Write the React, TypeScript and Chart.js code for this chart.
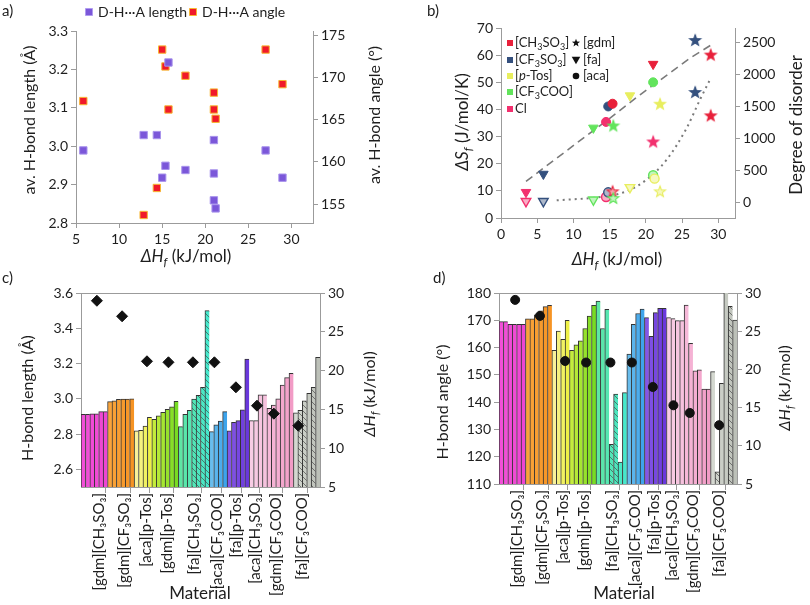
import React, { useEffect, useRef } from "react";
import { Chart, registerables } from "chart.js";
Chart.register(...registerables);

const FONT = "Lato, 'Open Sans', 'DejaVu Sans', sans-serif";
const AXIS = "#9b9b9b";
const TXT = "#1e1e1e";

// ---------- Panel a data ----------
const lenHf = [15.73, 5.85, 12.85, 14.38, 15.38, 15.0, 17.7, 21.0, 21.0, 21.0, 21.2, 27.0, 28.96];
const lenVal = [3.218, 2.989, 3.029, 3.029, 2.949, 2.918, 2.938, 3.016, 2.929, 2.859, 2.838, 2.989, 2.918];
const angHf = [15.0, 15.38, 17.7, 5.85, 15.73, 21.0, 21.0, 21.2, 14.38, 12.85, 27.0, 28.96];
const angVal = [173.3, 171.3, 170.2, 167.2, 166.2, 168.2, 166.2, 165.1, 156.9, 153.7, 173.3, 169.2];
const aXTicks = [5, 10, 15, 20, 25, 30];
const aYTicks = [2.8, 2.9, 3.0, 3.1, 3.2, 3.3];
const aY2Ticks = [155, 160, 165, 170, 175];

// ---------- Panel b data ----------
const sfHf = [3.45, 5.85, 12.75, 14.5, 14.8, 15.4, 15.5, 17.8, 21.0, 21.0, 21.0, 21.95, 26.8, 28.95];
const sfVal = [9.5, 16.2, 33.2, 35.4, 41.1, 42.1, 34.1, 45.1, 56.7, 50.0, 28.2, 42.1, 65.6, 60.2];
const sfCation = ["fa", "fa", "fa", "aca", "aca", "aca", "gdm", "fa", "fa", "aca", "gdm", "gdm", "gdm", "gdm"];
const sfAnion = ["Cl", "CF3SO3", "CF3COO", "Cl", "CF3SO3", "CH3SO3", "CF3COO", "pTos", "CH3SO3", "CF3COO", "Cl", "pTos", "CF3SO3", "CH3SO3"];
const ddHf = [3.45, 5.85, 12.75, 14.5, 14.8, 15.4, 15.5, 17.8, 21.0, 21.2, 21.95, 26.8, 28.95];
const ddVal = [16, 16, 40, 84, 157, 173, 68, 235, 424, 371, 173, 1731, 1365];
const ddCation = ["fa", "fa", "fa", "aca", "aca", "gdm", "gdm", "fa", "aca", "aca", "gdm", "gdm", "gdm"];
const ddAnion = ["Cl", "CF3SO3", "CF3COO", "Cl", "CF3SO3", "CH3SO3", "CF3COO", "pTos", "CF3COO", "pTos", "pTos", "CF3SO3", "CH3SO3"];
const fitHf = [3.45, 10.45, 15.05, 19.19, 26.1, 29.1];
const fitSf = [13.5, 27.6, 36.8, 45.4, 58.9, 63.9];
const curveHf = [7.69, 13.67, 17.35, 20.1, 22.87, 25.63, 27.47, 28.85];
const curveDd = [31, 84, 173, 356, 669, 1166, 1611, 1925];
const bXTicks = [0, 5, 10, 15, 20, 25, 30];
const bYTicks = [0, 10, 20, 30, 40, 50, 60, 70];
const bY2Ticks = [0, 500, 1000, 1500, 2000, 2500];

// ---------- Panels c, d data ----------
const groupLabels = ["[gdm][CH₃SO₃]", "[gdm][CF₃SO₃]", "[aca][p-Tos]", "[gdm][p-Tos]", "[fa][CH₃SO₃]", "[aca][CF₃COO]", "[fa][p-Tos]", "[aca][CH₃SO₃]", "[gdm][CF₃COO]", "[fa][CF₃COO]"];
const groupSizes = [6, 6, 4, 6, 7, 4, 5, 4, 6, 6];
const bondLength = [
  2.912, 2.912, 2.915, 2.915, 2.927, 2.927,
  2.984, 2.989, 2.997, 2.998, 2.998, 3.0,
  2.818, 2.821, 2.846, 2.895,
  2.884, 2.904, 2.923, 2.941, 2.955, 2.986,
  2.842, 2.912, 2.935, 2.999, 3.02, 3.065, 3.5,
  2.814, 2.852, 2.874, 2.927,
  2.819, 2.867, 2.876, 2.937, 3.225,
  2.876, 2.876, 3.022, 3.022,
  2.946, 2.965, 3.0, 3.078, 3.12, 3.145,
  2.92, 2.935, 2.989, 3.031, 3.065, 3.235,
];
const bondAngle = [
  169.5, 169.5, 168.5, 168.5, 168.5, 168.5,
  170.5, 170.5, 172, 173.5, 175, 175.5,
  159, 166, 163, 170,
  159, 161, 162.5, 167, 171.5, 175.5,
  177, 167, 174, 124.5, 143, 118, 143.5,
  157.6, 168.5, 172.5, 174.1,
  171, 164.1, 172.8, 174.4, 174.4,
  171, 170.6, 169.9, 169.9,
  175.6, 161.6, 151.5, 151.8, 144.8, 144.8,
  151.2, 114.5, 146.9, 186, 175.1, 170.1,
];
const hfC = [29.0, 27.0, 21.2, 21.07, 21.07, 21.07, 17.85, 15.48, 14.45, 12.9];
const hfCPos = [1.92, 7.9, 13.8, 18.9, 24.7, 29.8, 34.9, 39.9, 43.9, 49.7];
const hfD = [29.1, 27.0, 21.1, 20.9, 20.9, 20.9, 17.7, 15.3, 14.3, 12.7];
const hfDPos = [2.0, 7.9, 13.9, 18.9, 24.7, 29.8, 34.8, 39.7, 43.6, 50.6];
const cYTicks = [2.6, 2.8, 3.0, 3.2, 3.4, 3.6];
const dYTicks = [110, 120, 130, 140, 150, 160, 170, 180];
const hfTicks = [5, 10, 15, 20, 25, 30];

// ---------- styles ----------
const groupPalette = [
  ["#f24fd8", "#ee46d2"],
  ["#f9a43a", "#f69424"],
  ["#f8f29a", "#eef046"],
  ["#c4ec3c", "#78dc22"],
  ["#5ee6a4", "#46e8cc"],
  ["#68bcec", "#3ea4ec"],
  ["#8456e6", "#6a38dc"],
  ["#f8cce4", "#f6c2de"],
  ["#f6b8d8", "#f29cc6"],
  ["#d4d8d0", "#bcc0b8"],
];
const hatchC = [25, 26, 27, 28, 49, 50, 52];
const hatchD = [25, 26, 49, 52];
const anionColor: Record<string, string> = {
  CH3SO3: "#e8203a",
  CF3SO3: "#34507e",
  pTos: "#e8ee5e",
  CF3COO: "#62e45c",
  Cl: "#f2306e",
};

type Seg = { t: string; i?: boolean; sub?: boolean };
type Item =
  | { kind: "text"; x: number; y: number; size: number; segs: Seg[]; rot?: number; align?: "left" | "center" }
  | { kind: "mark"; x: number; y: number; r: number; shape: string; fill: string; stroke?: string };

function hexRgb(h: string) {
  const n = parseInt(h.slice(1), 16);
  return [(n >> 16) & 255, (n >> 8) & 255, n & 255];
}
function mix(a: string, b: string, t: number) {
  const A = hexRgb(a), B = hexRgb(b);
  return `rgb(${A.map((v, i) => Math.round(v + (B[i] - v) * t)).join(",")})`;
}
function hatchPattern(color: string) {
  const c = document.createElement("canvas");
  c.width = 6; c.height = 6;
  const g = c.getContext("2d")!;
  g.fillStyle = color; g.fillRect(0, 0, 6, 6);
  g.strokeStyle = "rgba(70,70,70,0.85)"; g.lineWidth = 0.8;
  g.beginPath();
  g.moveTo(0, 0); g.lineTo(6, 6);
  g.moveTo(-1, 5); g.lineTo(1, 7);
  g.moveTo(5, -1); g.lineTo(7, 1);
  g.stroke();
  return g.createPattern(c, "repeat");
}
function starPath(g: CanvasRenderingContext2D, cx: number, cy: number, r: number) {
  g.beginPath();
  for (let k = 0; k < 10; k++) {
    const a = -Math.PI / 2 + (k * Math.PI) / 5;
    const rr = k % 2 === 0 ? r : r * 0.42;
    const px = cx + rr * Math.cos(a), py = cy + rr * Math.sin(a);
    if (k === 0) g.moveTo(px, py); else g.lineTo(px, py);
  }
  g.closePath();
}
function starCanvas(fill: string, stroke: string, r: number) {
  const size = Math.ceil(r * 2 + 4);
  const c = document.createElement("canvas");
  c.width = size; c.height = size;
  const g = c.getContext("2d")!;
  starPath(g, size / 2, size / 2 + r * 0.1, r);
  g.fillStyle = fill; g.fill();
  g.lineWidth = 1.1; g.strokeStyle = stroke; g.stroke();
  return c;
}
function drawMark(ctx: CanvasRenderingContext2D, m: any) {
  ctx.save();
  ctx.fillStyle = m.fill;
  ctx.strokeStyle = m.stroke || m.fill;
  const r = m.r;
  if (m.shape === "star") starPath(ctx, m.x, m.y, r);
  else {
    ctx.beginPath();
    if (m.shape === "square") ctx.rect(m.x - r, m.y - r, 2 * r, 2 * r);
    else if (m.shape === "circle") ctx.arc(m.x, m.y, r, 0, Math.PI * 2);
    else if (m.shape === "tri") { ctx.moveTo(m.x - r, m.y - r * 0.75); ctx.lineTo(m.x + r, m.y - r * 0.75); ctx.lineTo(m.x, m.y + r); ctx.closePath(); }
  }
  ctx.fill();
  if (m.stroke) { ctx.lineWidth = 1; ctx.stroke(); }
  ctx.restore();
}
function makeOverlay(items: Item[]) {
  return {
    id: "overlay",
    afterDraw(chart: any) {
      const ctx = chart.ctx as CanvasRenderingContext2D;
      for (const it of items) {
        if (it.kind === "mark") { drawMark(ctx, it); continue; }
        ctx.save();
        ctx.translate(it.x, it.y);
        if (it.rot) ctx.rotate(it.rot);
        const fontFor = (s: Seg) => `${s.i ? "italic " : ""}${s.sub ? Math.round(it.size * 0.68) : it.size}px ${FONT}`;
        let w = 0;
        const ws = it.segs.map((s) => { ctx.font = fontFor(s); const m = ctx.measureText(s.t).width; w += m; return m; });
        let x = it.align === "left" ? 0 : -w / 2;
        ctx.textBaseline = "middle";
        ctx.textAlign = "left";
        ctx.fillStyle = TXT;
        it.segs.forEach((s, k) => {
          ctx.font = fontFor(s);
          ctx.fillText(s.t, x, s.sub ? it.size * 0.32 : 0);
          x += ws[k];
        });
        ctx.restore();
      }
    },
  };
}
function chem(s: string): Seg[] {
  if (s === "[p-Tos]") return [{ t: "[" }, { t: "p", i: true }, { t: "-Tos]" }];
  const out: Seg[] = [];
  for (const ch of s) {
    const isSub = /[0-9]/.test(ch);
    const last = out[out.length - 1];
    if (last && !!last.sub === isSub) last.t += ch; else out.push({ t: ch, sub: isSub });
  }
  return out;
}
const hfTitle: Seg[] = [{ t: "ΔH", i: true }, { t: "f", i: true, sub: true }, { t: " (kJ/mol)" }];

function ax(p: { position: string; min: number; max: number; vals: number[]; fmt?: (v: number) => string; width?: number; height?: number; size?: number }) {
  return {
    type: "linear",
    position: p.position,
    min: p.min,
    max: p.max,
    afterBuildTicks: (s: any) => { s.ticks = p.vals.map((v) => ({ value: v })); },
    afterFit: (s: any) => {
      if (p.width != null) s.width = p.width;
      if (p.height != null) s.height = p.height;
    },
    border: { display: true, color: AXIS, width: 1 },
    grid: { display: true, drawOnChartArea: false, drawTicks: true, tickLength: 5, color: AXIS },
    ticks: {
      color: TXT,
      font: { family: FONT, size: p.size ?? 14 },
      padding: 3,
      autoSkip: false,
      maxRotation: 0,
      callback: (v: number) => (p.fmt ? p.fmt(v) : String(v)),
    },
    title: { display: false },
  };
}

const baseOptions = (top: number) => ({
  animation: false,
  responsive: false,
  events: [],
  layout: { padding: { top, left: 0, right: 0, bottom: 0 } },
});

// ---------- Panel a ----------
function makeA() {
  const items: Item[] = [
    { kind: "text", x: 2, y: 11, size: 15, align: "left", segs: [{ t: "a)" }] },
    { kind: "mark", x: 89, y: 12, r: 3.5, shape: "square", fill: "#7b57d9", stroke: "#b09cf0" },
    { kind: "text", x: 98, y: 12, size: 14, align: "left", segs: [{ t: "D-H···A length" }] },
    { kind: "mark", x: 193, y: 12, r: 3.5, shape: "square", fill: "#f0192a", stroke: "#f7b733" },
    { kind: "text", x: 202, y: 12, size: 14, align: "left", segs: [{ t: "D-H···A angle" }] },
    { kind: "text", x: 30, y: 120, size: 16, rot: -Math.PI / 2, segs: [{ t: "av. H-bond length (Å)" }] },
    { kind: "text", x: 375, y: 115, size: 16, rot: -Math.PI / 2, segs: [{ t: "av. H-bond angle (°)" }] },
    { kind: "text", x: 186, y: 257, size: 17, segs: hfTitle },
  ];
  return {
    type: "scatter",
    data: {
      datasets: [
        { label: "D-H···A length", data: lenHf.map((x, i) => ({ x, y: lenVal[i] })), yAxisID: "y", pointStyle: "rect", pointRadius: 5.2, backgroundColor: "#7b57d9", borderColor: "#a893ec", borderWidth: 1 },
        { label: "D-H···A angle", data: angHf.map((x, i) => ({ x, y: angVal[i] })), yAxisID: "y2", pointStyle: "rect", pointRadius: 5.2, backgroundColor: "#f0192a", borderColor: "#f7b733", borderWidth: 1 },
      ],
    },
    options: {
      ...baseOptions(31),
      plugins: { legend: { display: false }, tooltip: { enabled: false } },
      scales: {
        x: ax({ position: "bottom", min: 5, max: 32.5, vals: aXTicks, height: 67 }),
        y: ax({ position: "left", min: 2.8, max: 3.3, vals: aYTicks, fmt: (v) => v.toFixed(1), width: 76 }),
        y2: ax({ position: "right", min: 152.75, max: 175.5, vals: aY2Ticks, width: 92 }),
      },
    },
    plugins: [makeOverlay(items)],
  };
}

// ---------- Panel b ----------
function markerFor(cation: string, color: string, hollow: boolean) {
  const fill = hollow ? mix(color, "#ffffff", 0.6) : color;
  if (cation === "gdm") return { style: starCanvas(fill, color, 5.8), rot: 0, fill, r: 6 };
  if (cation === "fa") return { style: "triangle", rot: 180, fill, r: 5.5 };
  return { style: "circle", rot: 0, fill, r: 4.5 };
}
function makeB() {
  const sfM = sfCation.map((c, i) => markerFor(c, anionColor[sfAnion[i]], false));
  const ddM = ddCation.map((c, i) => markerFor(c, anionColor[ddAnion[i]], ddVal[i] < 1000));
  const rows = [43, 60, 76, 92, 109];
  const anions = ["CH3SO3", "CF3SO3", "pTos", "CF3COO", "Cl"];
  const anionText = ["[CH3SO3]", "[CF3SO3]", "[p-Tos]", "[CF3COO]", "Cl"];
  const items: Item[] = [
    { kind: "text", x: 22, y: 11, size: 15, align: "left", segs: [{ t: "b)" }] },
    { kind: "text", x: 58, y: 122, size: 17, rot: -Math.PI / 2, segs: [{ t: "ΔS", i: true }, { t: "f", i: true, sub: true }, { t: " (J/mol/K)" }] },
    { kind: "text", x: 392, y: 125, size: 17, rot: -Math.PI / 2, segs: [{ t: "Degree of disorder" }] },
    { kind: "text", x: 212, y: 260, size: 17, segs: hfTitle },
  ];
  anions.forEach((a, k) => {
    items.push({ kind: "mark", x: 105, y: rows[k], r: 3, shape: "square", fill: anionColor[a] });
    items.push({ kind: "text", x: 110, y: rows[k], size: 13, align: "left", segs: chem(anionText[k]) });
  });
  const cat = [["star", "[gdm]"], ["tri", "[fa]"], ["circle", "[aca]"]];
  cat.forEach(([shape, label], k) => {
    items.push({ kind: "mark", x: 171, y: rows[k], r: shape === "circle" ? 3.3 : 4.3, shape, fill: "#111" });
    items.push({ kind: "text", x: 178, y: rows[k], size: 13, align: "left", segs: [{ t: label }] });
  });
  return {
    type: "scatter",
    data: {
      datasets: [
        {
          label: "ΔSf", data: sfHf.map((x, i) => ({ x, y: sfVal[i] })), yAxisID: "y",
          pointStyle: sfM.map((m) => m.style), rotation: sfM.map((m) => m.rot), pointRadius: sfM.map((m) => m.r),
          backgroundColor: sfM.map((m) => m.fill), borderColor: sfAnion.map((a) => anionColor[a]), borderWidth: 1,
        },
        {
          label: "Degree of disorder", data: ddHf.map((x, i) => ({ x, y: ddVal[i] })), yAxisID: "y2",
          pointStyle: ddM.map((m) => m.style), rotation: ddM.map((m) => m.rot), pointRadius: ddM.map((m) => m.r),
          backgroundColor: ddM.map((m) => m.fill), borderColor: ddAnion.map((a) => anionColor[a]), borderWidth: 1.4,
        },
        {
          type: "line", label: "fit", data: fitHf.map((x, i) => ({ x, y: fitSf[i] })), yAxisID: "y",
          borderColor: "#7a7a7a", borderDash: [8, 5], borderWidth: 1.6, pointRadius: 0, fill: false, showLine: true,
        },
        {
          type: "line", label: "curve", data: curveHf.map((x, i) => ({ x, y: curveDd[i] })), yAxisID: "y2",
          borderColor: "#7a7a7a", borderDash: [2, 4], borderWidth: 2, pointRadius: 0, fill: false, showLine: true,
          cubicInterpolationMode: "monotone",
        },
      ],
    },
    options: {
      ...baseOptions(28),
      plugins: { legend: { display: false }, tooltip: { enabled: false } },
      scales: {
        x: ax({ position: "bottom", min: 0, max: 32.3, vals: bXTicks, height: 72 }),
        y: ax({ position: "left", min: 0, max: 70, vals: bYTicks, width: 96 }),
        y2: ax({ position: "right", min: -246, max: 2735, vals: bY2Ticks, width: 75 }),
      },
    },
    plugins: [makeOverlay(items)],
  };
}

// ---------- Panels c, d ----------
function barColors(hatched: number[]) {
  const out: any[] = [];
  let k = 0;
  groupSizes.forEach((n, g) => {
    for (let j = 0; j < n; j++) {
      const col = mix(groupPalette[g][0], groupPalette[g][1], n > 1 ? j / (n - 1) : 0);
      out.push(hatched.includes(k) ? hatchPattern(col) : col);
      k++;
    }
  });
  return out;
}
function groupTicks() {
  const bounds: number[] = [-0.5];
  const centers: number[] = [];
  let s = 0;
  groupSizes.forEach((n) => { centers.push(s + (n - 1) / 2); s += n; bounds.push(s - 0.5); });
  const labels = new Map<number, string>();
  centers.forEach((c, i) => labels.set(c, groupLabels[i]));
  const all = [...bounds, ...centers].sort((a, b) => a - b);
  return { bounds, labels, all, total: s };
}
function makeBarChart(p: {
  values: number[]; yMin: number; yMax: number; yTicks: number[]; yFmt?: (v: number) => string;
  hf: number[]; hfPos: number[]; hatched: number[]; left: number; right: number; xh: number;
  marker: string; markerR: number; items: Item[];
}) {
  const gt = groupTicks();
  const plotWidth = 405 - p.left - p.right;
  const xl: any = {
    type: "linear", position: "bottom", min: -0.5, max: gt.total - 0.5,
    afterBuildTicks: (s: any) => { s.ticks = gt.all.map((v) => ({ value: v })); },
    afterFit: (s: any) => { s.height = p.xh; },
    border: { display: true, color: AXIS, width: 1 },
    grid: {
      display: true, drawOnChartArea: false, drawTicks: true, tickLength: 6,
      color: (ctx: any) => (ctx.tick && gt.bounds.includes(ctx.tick.value) ? AXIS : "rgba(0,0,0,0)"),
    },
    ticks: {
      color: TXT, font: { family: FONT, size: 15 }, padding: 0, autoSkip: false, minRotation: 90, maxRotation: 90,
      callback: (v: number) => gt.labels.get(v) ?? "",
    },
  };
  return {
    type: "bar",
    data: {
      labels: p.values.map((_, i) => String(i + 1)),
      datasets: [
        {
          type: "scatter", label: "ΔHf", data: p.hf.map((y, i) => ({ x: p.hfPos[i], y })), xAxisID: "xl", yAxisID: "y2",
          pointStyle: p.marker, pointRadius: p.markerR, backgroundColor: "#111", borderColor: "#111",
        },
        {
          type: "bar", label: "H-bond", data: p.values, xAxisID: "x", yAxisID: "y",
          backgroundColor: barColors(p.hatched), borderColor: "#333333",
          borderWidth: { left: 1, right: 0, top: 1, bottom: 0 },
          barThickness: plotWidth / gt.total,
          grouped: false,
          categoryPercentage: 1, barPercentage: 1,
        },
      ],
    },
    options: {
      ...baseOptions(23),
      plugins: { legend: { display: false }, tooltip: { enabled: false } },
      scales: {
        x: { type: "category", display: false, offset: true },
        xl,
        xt: {
          type: "linear", position: "top", min: 0, max: 1,
          ticks: { display: false }, grid: { display: false },
          border: { display: true, color: AXIS, width: 1 },
          afterFit: (s: any) => { s.height = 0; },
        },
        y: ax({ position: "left", min: p.yMin, max: p.yMax, vals: p.yTicks, fmt: p.yFmt, width: p.left }),
        y2: ax({ position: "right", min: 5, max: 30, vals: hfTicks, width: p.right }),
      },
    },
    plugins: [makeOverlay(p.items)],
  };
}
function makeC() {
  return makeBarChart({
    values: bondLength, yMin: 2.5, yMax: 3.6, yTicks: cYTicks, yFmt: (v) => v.toFixed(1),
    hf: hfC, hfPos: hfCPos, hatched: hatchC, left: 81, right: 85, xh: 118, marker: "rectRot", markerR: 5.5,
    items: [
      { kind: "text", x: 2, y: 8, size: 15, align: "left", segs: [{ t: "c)" }] },
      { kind: "text", x: 28, y: 128, size: 16, rot: -Math.PI / 2, segs: [{ t: "H-bond length (Å)" }] },
      { kind: "text", x: 370, y: 124, size: 16, rot: -Math.PI / 2, segs: hfTitle },
      { kind: "text", x: 200, y: 324, size: 17, segs: [{ t: "Material" }] },
    ],
  });
}
function makeD() {
  return makeBarChart({
    values: bondAngle, yMin: 110, yMax: 180, yTicks: dYTicks,
    hf: hfD, hfPos: hfDPos, hatched: hatchD, left: 94, right: 73, xh: 121, marker: "circle", markerR: 4.5,
    items: [
      { kind: "text", x: 28, y: 8, size: 15, align: "left", segs: [{ t: "d)" }] },
      { kind: "text", x: 38, y: 132, size: 16, rot: -Math.PI / 2, segs: [{ t: "H-bond angle (°)" }] },
      { kind: "text", x: 380, y: 118, size: 16, rot: -Math.PI / 2, segs: hfTitle },
      { kind: "text", x: 219, y: 324, size: 17, segs: [{ t: "Material" }] },
    ],
  });
}

function ChartCanvas(props: { left: number; top: number; width: number; height: number; make: () => any }) {
  const ref = useRef<HTMLCanvasElement>(null);
  useEffect(() => {
    const chart = new Chart(ref.current!, props.make());
    return () => chart.destroy();
  }, []);
  return (
    <canvas
      ref={ref}
      width={props.width}
      height={props.height}
      style={{ position: "absolute", left: props.left, top: props.top, width: props.width, height: props.height }}
    />
  );
}

export default function App() {
  return (
    <div style={{ position: "absolute", left: 0, top: 0, width: 810, height: 605, background: "#ffffff", overflow: "hidden" }}>
      <ChartCanvas left={0} top={0} width={405} height={290} make={makeA} />
      <ChartCanvas left={405} top={0} width={405} height={290} make={makeB} />
      <ChartCanvas left={0} top={270} width={405} height={335} make={makeC} />
      <ChartCanvas left={405} top={270} width={405} height={335} make={makeD} />
    </div>
  );
}
